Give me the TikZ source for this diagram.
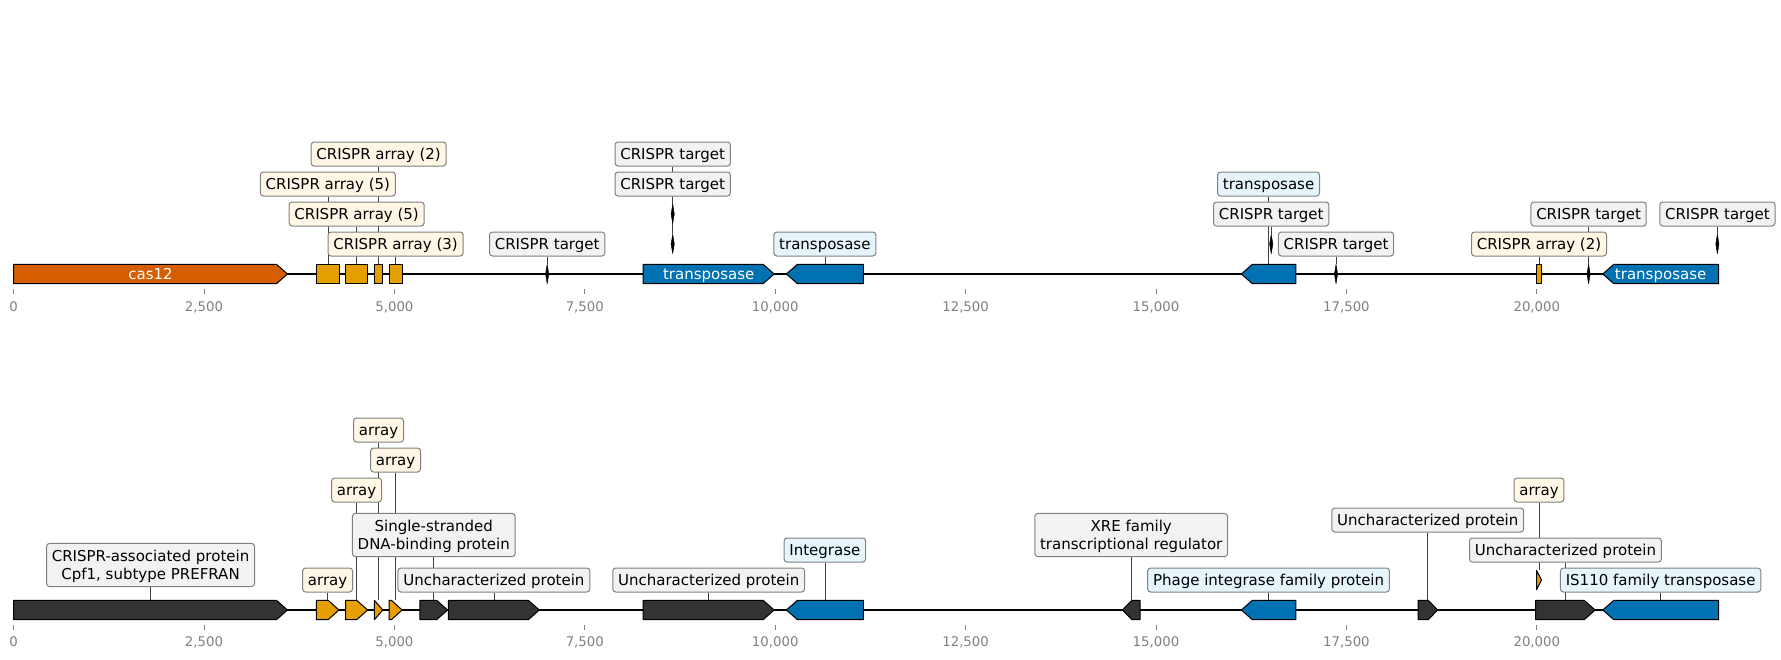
\documentclass[tikz,border=0pt]{standalone}
\usepackage{fontspec}
\setmainfont{DejaVu Sans}
\usetikzlibrary{backgrounds}

\definecolor{casred}{HTML}{D55E00}
\definecolor{arrayorange}{HTML}{E69F00}
\definecolor{tnsblue}{HTML}{0072B2}
\definecolor{protdark}{HTML}{333333}
\definecolor{arrayfill}{HTML}{FFF7E6}
\definecolor{targetfill}{HTML}{F2F2F2}
\definecolor{tnsfill}{HTML}{E6F4FB}
\definecolor{labedge}{HTML}{808080}
\definecolor{tickgray}{HTML}{808080}

\newcommand{\labfont}{\fontsize{15}{16.7}\selectfont}
\newcommand{\tickfont}{\fontsize{13.3}{15}\selectfont}
\newcommand{\lstrut}{\rule[-2.4pt]{0pt}{16.7pt}}

% forward gene: name, start, head base, tip, track y, style
\newcommand{\fwdgene}[6]{%
  \filldraw[#6] (#2,#5-9.65) -- (#3,#5-9.65) -- (#4,#5) -- (#3,#5+9.65) -- (#2,#5+9.65) -- cycle;
  \coordinate (#1) at ({(#2+#4)/2},#5-9.65);}
% reverse gene: name, tip, head base, end, track y, style
\newcommand{\revgene}[6]{%
  \filldraw[#6] (#2,#5) -- (#3,#5-9.65) -- (#4,#5-9.65) -- (#4,#5+9.65) -- (#3,#5+9.65) -- cycle;
  \coordinate (#1) at ({(#2+#4)/2},#5-9.65);}
% array block: name, start, end, track y
\newcommand{\arrayblock}[4]{%
  \filldraw[arrayfeat] (#2,#4-9.65) rectangle (#3,#4+9.65);
  \coordinate (#1) at ({(#2+#3)/2},#4-9.65);}
% crispr target mark: name, position, track y
\newcommand{\targetmark}[3]{%
  \filldraw[black, line width=0.5pt, line join=round] (#2,#3-9.65) -- (#2+0.021,#3) -- (#2,#3+9.65) -- (#2-0.021,#3) -- cycle;
  \coordinate (#1) at (#2,#3-9.65);}

\begin{document}
\begin{tikzpicture}[x=76.16pt, y={(0pt,-1pt)},
    trackline/.style={line width=1.8pt, black},
    tickmark/.style={draw=tickgray, line width=0.8pt},
    ticklab/.style={font=\tickfont, text=tickgray, text height=9.7pt, text depth=0pt, inner sep=0pt},
    feat/.style={draw=black, line width=1pt, line join=round},
    casfeat/.style={feat, fill=casred},
    arrayfeat/.style={feat, fill=arrayorange},
    tnsfeat/.style={feat, fill=tnsblue},
    protfeat/.style={feat, fill=protdark},
    lab/.style={draw=labedge, line width=1pt, rounded corners=3pt, inner xsep=5.3pt, inner ysep=3.65pt, font=\labfont},
    onelab/.style={lab, text height=14.3pt, text depth=2.4pt},
    arraylab/.style={onelab, fill=arrayfill},
    targetlab/.style={onelab, fill=targetfill},
    tnslab/.style={onelab, fill=tnsfill},
    protlab/.style={onelab, fill=targetfill},
    protlabii/.style={lab, fill=targetfill, align=center},
    innerlab/.style={font=\labfont, text=white, text height=14.3pt, text depth=2.4pt, inner sep=0pt},
    leader/.style={line width=0.6pt, black!75}]

    \useasboundingbox (-0.17857,0) rectangle (23.2064,659);

    % Backbones and axes
    \draw[trackline] (0,274) -- (22.386,274);
    \draw[trackline] (0,610) -- (22.386,610);
    \foreach \t/\lab [count=\i] in {0/0,2.5/{2,500},5/{5,000},7.5/{7,500},10/{10,000},12.5/{12,500},15/{15,000},17.5/{17,500},20/{20,000}}{
        \draw[tickmark] (\t,289) -- (\t,294);
        \node[ticklab] (ttop\i) at (\t,307) {\lab};
        \draw[tickmark] (\t,625) -- (\t,630);
        \node[ticklab] (tbot\i) at (\t,642) {\lab};
    }

    % Top track: features
    \fwdgene{cas}{0}{3.452}{3.596}{274}{casfeat}
    \arrayblock{ca1}{3.975}{4.277}{274}
    \arrayblock{ca2}{4.359}{4.649}{274}
    \arrayblock{ca3}{4.738}{4.847}{274}
    \arrayblock{ca4}{4.930}{5.101}{274}
    \targetmark{tg1}{7.006}{274}
    \targetmark{tg2}{8.654}{244}
    \targetmark{tg3}{8.654}{214}
    \fwdgene{tn1}{8.267}{9.842}{9.986}{274}{tnsfeat}
    \revgene{tn2}{10.147}{10.291}{11.157}{274}{tnsfeat}
    \revgene{tn3}{16.120}{16.264}{16.836}{274}{tnsfeat}
    \targetmark{tg4}{16.513}{244}
    \targetmark{tg5}{17.364}{274}
    \arrayblock{ca5}{19.996}{20.062}{274}
    \targetmark{tg6}{20.680}{274}
    \revgene{tn4}{20.866}{21.010}{22.386}{274}{tnsfeat}
    \targetmark{tg7}{22.371}{244}

    % Top track: labels
    \node[innerlab] (cas12) at (cas |- 0,274) {cas12};
    \node[innerlab] (tn1in) at (tn1 |- 0,274) {transposase};
    \node[innerlab] (tn4in) at (tn4 |- 0,274) {transposase};
    \node[arraylab] (la3) at (ca3 |- 0,154) {CRISPR array (2)};
    \node[arraylab] (la1) at (ca1 |- 0,184) {CRISPR array (5)};
    \node[arraylab] (la2) at (ca2 |- 0,214) {CRISPR array (5)};
    \node[arraylab] (la4) at (ca4 |- 0,244) {CRISPR array (3)};
    \node[targetlab] (lt1) at (tg1 |- 0,244) {CRISPR target};
    \node[targetlab] (lt2) at (tg2 |- 0,154) {CRISPR target};
    \node[targetlab] (lt3) at (tg3 |- 0,184) {CRISPR target};
    \node[tnslab] (ln2) at (tn2 |- 0,244) {transposase};
    \node[tnslab] (ln3) at (tn3 |- 0,184) {transposase};
    \node[targetlab] (lt4) at (tg4 |- 0,214) {CRISPR target};
    \node[targetlab] (lt5) at (tg5 |- 0,244) {CRISPR target};
    \node[arraylab] (la5) at (ca5 |- 0,244) {CRISPR array (2)};
    \node[targetlab] (lt6) at (tg6 |- 0,214) {CRISPR target};
    \node[targetlab] (lt7) at (tg7 |- 0,214) {CRISPR target};

    % Bottom track: features
    \fwdgene{cpf}{0}{3.452}{3.596}{610}{protfeat}
    \fwdgene{ba1}{3.975}{4.131}{4.271}{610}{arrayfeat}
    \fwdgene{ba2}{4.359}{4.505}{4.649}{610}{arrayfeat}
    \fwdgene{ba3}{4.738}{4.738}{4.847}{610}{arrayfeat}
    \fwdgene{ba4}{4.930}{4.961}{5.101}{610}{arrayfeat}
    \fwdgene{ssb}{5.335}{5.555}{5.699}{610}{protfeat}
    \fwdgene{up1}{5.709}{6.759}{6.903}{610}{protfeat}
    \fwdgene{up2}{8.267}{9.842}{9.986}{610}{protfeat}
    \revgene{int}{10.147}{10.291}{11.157}{610}{tnsfeat}
    \revgene{xre}{14.559}{14.685}{14.790}{610}{protfeat}
    \revgene{phi}{16.120}{16.264}{16.836}{610}{tnsfeat}
    \fwdgene{up3}{18.440}{18.576}{18.697}{610}{protfeat}
    \fwdgene{up4}{19.986}{20.622}{20.766}{610}{protfeat}
    \fwdgene{ba5}{19.996}{19.996}{20.062}{580}{arrayfeat}
    \revgene{is}{20.866}{21.010}{22.386}{610}{tnsfeat}

    % Bottom track: labels
    \node[protlabii] (lcpf) at (cpf |- 0,565) {\lstrut CRISPR-associated protein\\\lstrut Cpf1, subtype PREFRAN};
    \node[arraylab] (lba1) at (ba1 |- 0,580) {array};
    \node[arraylab] (lba2) at (ba2 |- 0,490) {array};
    \node[arraylab] (lba3) at (ba3 |- 0,430) {array};
    \node[arraylab] (lba4) at (ba4 |- 0,460) {array};
    \node[protlabii] (lssb) at (ssb |- 0,535) {\lstrut Single-stranded\\\lstrut DNA-binding protein};
    \node[protlab] (lup1) at (up1 |- 0,580) {Uncharacterized protein\ };
    \node[protlab] (lup2) at (up2 |- 0,580) {Uncharacterized protein\ };
    \node[tnslab] (lint) at (int |- 0,550) {Integrase\ };
    \node[protlabii] (lxre) at (xre |- 0,535) {\lstrut XRE family\\\lstrut transcriptional regulator};
    \node[tnslab] (lphi) at (phi |- 0,580) {Phage integrase family protein};
    \node[protlab] (lup3) at (up3 |- 0,520) {Uncharacterized protein\ };
    \node[arraylab] (lba5) at (ba5 |- 0,490) {array};
    \node[protlab] (lup4) at (up4 |- 0,550) {Uncharacterized protein\ };
    \node[tnslab] (lis) at (is |- 0,580) {IS110 family transposase\ };

    % Leader lines behind the labels
    \begin{scope}[on background layer]
        \draw[leader] (la3) -- (ca3);
        \draw[leader] (la1) -- (ca1);
        \draw[leader] (la2) -- (ca2);
        \draw[leader] (la4) -- (ca4);
        \draw[leader] (lt1) -- (tg1);
        \draw[leader] (lt2) -- (tg2);
        \draw[leader] (lt3) -- (tg3);
        \draw[leader] (ln2) -- (tn2);
        \draw[leader] (ln3) -- (tn3);
        \draw[leader] (lt4) -- (tg4);
        \draw[leader] (lt5) -- (tg5);
        \draw[leader] (la5) -- (ca5);
        \draw[leader] (lt6) -- (tg6);
        \draw[leader] (lt7) -- (tg7);
        \draw[leader] (lcpf) -- (cpf);
        \draw[leader] (lba1) -- (ba1);
        \draw[leader] (lba2) -- (ba2);
        \draw[leader] (lba3) -- (ba3);
        \draw[leader] (lba4) -- (ba4);
        \draw[leader] (lssb) -- (ssb);
        \draw[leader] (lup1) -- (up1);
        \draw[leader] (lup2) -- (up2);
        \draw[leader] (lint) -- (int);
        \draw[leader] (lxre) -- (xre);
        \draw[leader] (lphi) -- (phi);
        \draw[leader] (lup3) -- (up3);
        \draw[leader] (lba5) -- (ba5);
        \draw[leader] (lup4) -- (up4);
        \draw[leader] (lis) -- (is);
    \end{scope}
\end{tikzpicture}
\end{document}
